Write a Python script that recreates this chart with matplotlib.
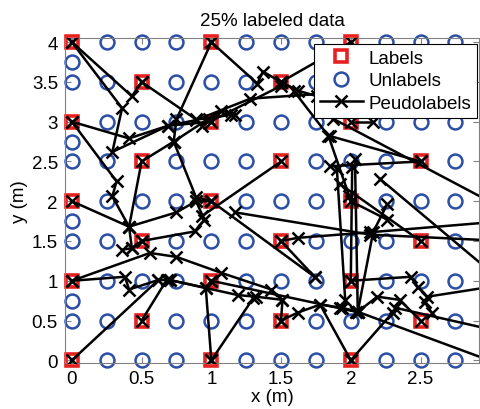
import numpy as np
import matplotlib
matplotlib.use("Agg")
import matplotlib.pyplot as plt

plt.rcParams['font.family'] = ['Liberation Sans', 'DejaVu Sans']

# grid of sensor positions (m)
grid_x = [0, 0.25, 0.5, 0.75, 1.0, 1.25, 1.5, 1.75, 2.0, 2.25, 2.5, 2.75]
grid_y = [0, 0.5, 1.0, 1.5, 2.0, 2.5, 3.0, 3.5, 4.0]
extra_x = [0, 0, 0, 0]
extra_y = [0.75, 1.75, 2.75, 3.75]

# labeled points
lab_x = [0, 1, 2, 0, 1, 2, 0, 1, 2, 0, 1, 2, 0, 1, 2,
         0.5, 1.5, 2.5, 0.5, 1.5, 2.5, 0.5, 1.5, 2.5, 0.5, 1.5, 2.5]
lab_y = [0, 0, 0, 1, 1, 1, 2, 2, 2, 3, 3, 3, 4, 4, 4,
         0.5, 0.5, 0.5, 1.5, 1.5, 1.5, 2.5, 2.5, 2.5, 3.5, 3.5, 3.5]

# pseudolabel chains
pseudo = [
    [(0, 4), (0.36, 3.17), (0.29, 2.62), (0.69, 2.95), (1, 3)],
    [(0, 4), (0.43, 3.32), (0.5, 3.5)],
    [(0, 3), (0.41, 2.79), (0.69, 2.95), (0.89, 3.02), (1.28, 3.29), (1.78, 3.35)],
    [(0.5, 3.5), (0.89, 3.03), (0.98, 3.04), (1.14, 3.09)],
    [(1, 4), (0.75, 3.03), (0.73, 2.75), (0.89, 2.05), (1, 2)],
    [(0.73, 2.75), (1.07, 3.14), (1.17, 3.09)],
    [(1, 4), (1.33, 3.48), (1.37, 3.63), (1.5, 3.5)],
    [(1.5, 3.5), (1.62, 3.39), (1.76, 3.32), (1.92, 3.24)],
    [(0.93, 2.95), (1.5, 3.45)],
    [(1.59, 3.39), (1.84, 2.82), (1.99, 2.06)],
    [(0, 3), (0.32, 2.25), (0.29, 2.06), (0.41, 1.68), (0.75, 1.86), (0.89, 2.0), (1, 2)],
    [(0, 2), (0.41, 1.68), (0.43, 1.41), (0.5, 1.5)],
    [(0.36, 1.39), (0.43, 1.41)],
    [(0.41, 1.68), (0.5, 2.5), (0.73, 2.75)],
    [(0.5, 1.5), (0.88, 1.62), (0.95, 1.77), (0.89, 2.0)],
    [(0, 1), (0.56, 1.35), (0.75, 1.3), (1.07, 1.1), (1.43, 0.89), (1.51, 0.76), (1.5, 0.5)],
    [(0, 1), (0.38, 1.05), (0.41, 0.89), (0.62, 1.01), (0.7, 1.01), (0.96, 0.91), (1, 1)],
    [(0, 0), (0.62, 1.01)],
    [(0.5, 0.5), (0.68, 1.01)],
    [(0.96, 0.91), (1, 0)],
    [(0.7, 1.01), (1.19, 0.82), (1.32, 0.8), (1.51, 0.76)],
    [(1, 0), (1.3, 0.78)],
    [(1.5, 0.5), (1.62, 0.6), (1.78, 0.7), (1.94, 0.66), (2.04, 0.61)],
    [(1.78, 0.7), (2, 0)],
    [(2, 0), (2.3, 0.6)],
    [(1, 2), (1.74, 1.05)],
    [(0.93, 1.81), (1.5, 2.5)],
    [(1.17, 1.86), (2.14, 1.58), (3.1, 1.5)],
    [(1.5, 1.5), (1.62, 1.54), (2.14, 1.61), (3.1, 1.75)],
    [(1.5, 1.5), (1.74, 1.05)],
    [(1, 1), (2.04, 0.61)],
    [(2, 4), (1.5, 3.5)],
    [(1.87, 3.04), (3.1, 1.9)],
    [(2, 3), (2.16, 3.0)],
    [(1.85, 2.82), (2.5, 2.5)],
    [(2.5, 2.5), (1.85, 2.44)],
    [(1.9, 2.41), (1.96, 0.76)],
    [(2.01, 2.43), (2, 1)],
    [(2.03, 2.53), (2.05, 0.61)],
    [(2.26, 1.96), (2.16, 1.61), (2.05, 0.61)],
    [(2, 2), (2.26, 1.77)],
    [(1.92, 2.22), (2.5, 1.5)],
    [(2.21, 2.28), (3.1, 0.97)],
    [(2, 1), (2.43, 1.05), (2.48, 0.92), (2.55, 0.8), (3.1, 0.95)],
    [(2.53, 0.73), (2.58, 0.6)],
    [(1.92, 0.66), (2.05, 0.61), (2.19, 0.8), (2.35, 0.76), (2.5, 0.5)],
    [(2.05, 0.61), (3.1, -0.07)],
    [(2.32, 0.66), (3.1, 0.35)],
]

labeled = set(zip(lab_x, lab_y))
unl_x, unl_y = [], []
for gy in grid_y:
    for gx in grid_x:
        if (gx, gy) not in labeled:
            unl_x.append(gx)
            unl_y.append(gy)
unl_x += extra_x
unl_y += extra_y

fs = 13.5
fig = plt.figure(figsize=(4.81, 4.10), dpi=100)
ax = fig.add_axes([0.135, 0.112, 0.861, 0.793])

h1, = ax.plot(lab_x, lab_y, 's', color='#e8201f', mfc='none', ms=8, mew=2.6,
              clip_on=False, zorder=2, label='Labels')
h2, = ax.plot(unl_x, unl_y, 'o', color='#2b4ea6', mfc='none', ms=10, mew=1.8,
              clip_on=False, zorder=2, label='Unlabels')
h3 = None
for ch in pseudo:
    xs = [p[0] for p in ch]
    ys = [p[1] for p in ch]
    ln, = ax.plot(xs, ys, '-x', color='black', lw=1.8, ms=8, mew=1.8, zorder=3,
                  label='Peudolabels')
    if h3 is None:
        h3 = ln

ax.set_xlim(-0.05, 2.92)
ax.set_ylim(-0.035, 4.053)
ax.set_xticks([0, 0.5, 1, 1.5, 2, 2.5])
ax.set_xticklabels(['0', '0.5', '1', '1.5', '2', '2.5'])
ax.set_yticks([0, 0.5, 1, 1.5, 2, 2.5, 3, 3.5, 4])
ax.set_yticklabels(['0', '0.5', '1', '1.5', '2', '2.5', '3', '3.5', '4'])
ax.tick_params(direction='in', top=True, right=True, labelsize=fs, length=4,
               color='#808080', pad=5)
for s in ax.spines.values():
    s.set_color('#808080')
ax.set_xlabel('x (m)', fontsize=fs, labelpad=1)
ax.set_ylabel('y (m)', fontsize=fs, labelpad=3)
ax.set_title('25% labeled data', fontsize=fs, pad=9)

leg = ax.legend(handles=[h1, h2, h3], loc='upper right',
                bbox_to_anchor=(0.995, 0.982), borderaxespad=0, fontsize=fs,
                fancybox=False, edgecolor='black', framealpha=1,
                handlelength=2.3, handletextpad=0.3, labelspacing=0.3,
                borderpad=0.3)
leg.get_frame().set_linewidth(0.8)

plt.savefig('out.png', dpi=100)
